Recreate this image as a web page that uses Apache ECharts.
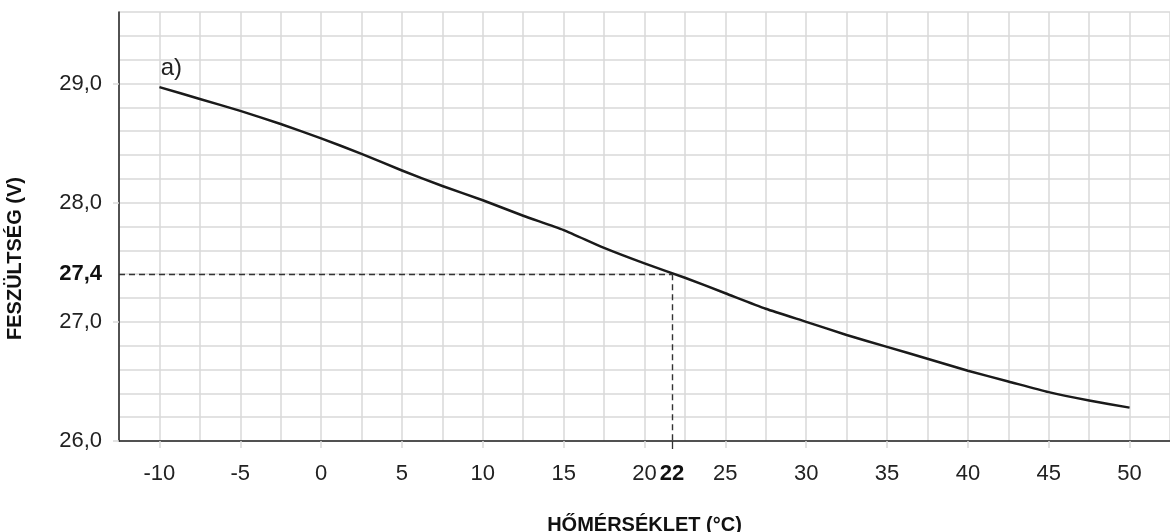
<!DOCTYPE html>
<html>
<head>
<meta charset="utf-8">
<script src="https://cdn.jsdelivr.net/npm/echarts@6/dist/echarts.min.js"></script>
<style>html,body{margin:0;padding:0;background:#fff}#c{width:1170px;height:532px}</style>
</head>
<body>
<div id="c"></div>
<script>
// Temperature (°C) and voltage (V)
const temps = [-10, -7.5, -5, -2.5, 0, 2.5, 5, 7.5, 10, 12.5, 15, 17.5, 20, 22.5, 25, 27.5, 30, 32.5, 35, 37.5, 40, 42.5, 45, 47.5, 50];
const volts = [28.97, 28.87, 28.77, 28.66, 28.54, 28.41, 28.27, 28.14, 28.02, 27.89, 27.77, 27.62, 27.49, 27.37, 27.24, 27.11, 27.00, 26.89, 26.79, 26.69, 26.59, 26.50, 26.41, 26.34, 26.28];
const xTickValues = [-10, -5, 0, 5, 10, 15, 20, 25, 30, 35, 40, 45, 50];
const yTickValues = [26, 27, 28, 29];
// Reading point marked with dashed lines (drawn where the reference puts it)
const markX = 21.7;
const markXLabel = '22';
const markY = 27.4;
const curveLabel = 'a)';
const xName = 'HŐMÉRSÉKLET (°C)';
const yName = 'FESZÜLTSÉG (V)';

const chart = echarts.init(document.getElementById('c'));
const font = 'Liberation Sans, Arial';
const txt = '#222';
const gridCol = '#d9d9d9';
const X_MIN = -12.5, X_MAX = 52.5, Y_MIN = 26, Y_MAX = 29.6;

const xBase = { type: 'value', min: X_MIN, max: X_MAX, interval: 2.5, position: 'bottom' };
const yBase = { type: 'value', min: Y_MIN, max: Y_MAX, interval: 0.2, position: 'left' };

chart.setOption({
  animation: false,
  grid: { left: 119, right: 0, top: 12, bottom: 91, containLabel: false, outerBoundsMode: 'none' },
  xAxis: [
    // grid lines every 2.5
    Object.assign({}, xBase, {
      axisLine: { show: true, onZero: false, lineStyle: { color: '#222', width: 1.5 } },
      axisTick: { show: false }, axisLabel: { show: false },
      splitLine: { show: true, lineStyle: { color: gridCol, width: 1.5 } }
    }),
    // labels and ticks every 5, plus the marked reading
    Object.assign({}, xBase, {
      name: xName, nameLocation: 'middle', nameGap: 74,
      nameTextStyle: { fontFamily: font, fontSize: 20, fontWeight: 'bold', color: '#111' },
      axisLine: { show: false, onZero: false },
      axisTick: { show: true, length: 7, customValues: xTickValues, lineStyle: { color: gridCol, width: 1.5 } },
      axisLabel: {
        customValues: xTickValues.concat([markX]), margin: 22,
        fontFamily: font, fontSize: 22, color: txt,
        formatter: v => Math.abs(v - markX) < 1e-6 ? '{b|' + markXLabel + '}' : String(v),
        rich: { b: { fontFamily: font, fontSize: 22, fontWeight: 'bold', color: '#111' } }
      },
      splitLine: { show: false }
    }),
    // dashed tick at the marked reading
    Object.assign({}, xBase, {
      axisLine: { show: false, onZero: false },
      axisTick: { show: true, length: 8, customValues: [markX], lineStyle: { color: '#333', width: 1.3 } },
      axisLabel: { show: false },
      splitLine: { show: false }
    })
  ],
  yAxis: [
    Object.assign({}, yBase, {
      axisLine: { show: true, onZero: false, lineStyle: { color: '#222', width: 1.5 } },
      axisTick: { show: false }, axisLabel: { show: false },
      splitLine: { show: true, lineStyle: { color: gridCol, width: 1.5 } }
    }),
    Object.assign({}, yBase, {
      name: yName, nameLocation: 'middle', nameGap: 94, nameRotate: 90,
      nameTextStyle: { fontFamily: font, fontSize: 20, fontWeight: 'bold', color: '#111', padding: [0, 64, 0, 0] },
      axisLine: { show: false, onZero: false },
      axisTick: { show: true, length: 6, customValues: yTickValues, lineStyle: { color: gridCol, width: 1.5 } },
      axisLabel: {
        customValues: yTickValues.concat([markY]), margin: 17,
        fontFamily: font, fontSize: 22, color: txt,
        formatter: v => {
          const s = v.toFixed(1).replace('.', ',');
          return Math.abs(v - markY) < 1e-6 ? '{b|' + s + '}' : s;
        },
        rich: { b: { fontFamily: font, fontSize: 22, fontWeight: 'bold', color: '#111' } }
      },
      splitLine: { show: false }
    })
  ],
  series: [{
    type: 'line',
    xAxisIndex: 0, yAxisIndex: 0,
    data: temps.map((t, i) => [t, volts[i]]),
    smooth: 0.2,
    showSymbol: false,
    lineStyle: { color: '#1a1a1a', width: 2.5, join: 'round' },
    markLine: {
      silent: true, symbol: 'none',
      label: { show: false },
      lineStyle: { color: '#333', width: 1.4, type: [6, 4] },
      data: [
        [{ coord: [X_MIN, markY] }, { coord: [markX, markY] }],
        [{ coord: [markX, markY] }, { coord: [markX, Y_MIN] }]
      ]
    },
    markPoint: {
      silent: true,
      symbol: 'circle', symbolSize: 0,
      label: { show: true, position: 'inside', offset: [12, -19], fontFamily: font, fontSize: 24, color: txt },
      data: [{ coord: [temps[0], volts[0]], value: curveLabel, label: { formatter: curveLabel } }]
    }
  }]
});
</script>
</body>
</html>
